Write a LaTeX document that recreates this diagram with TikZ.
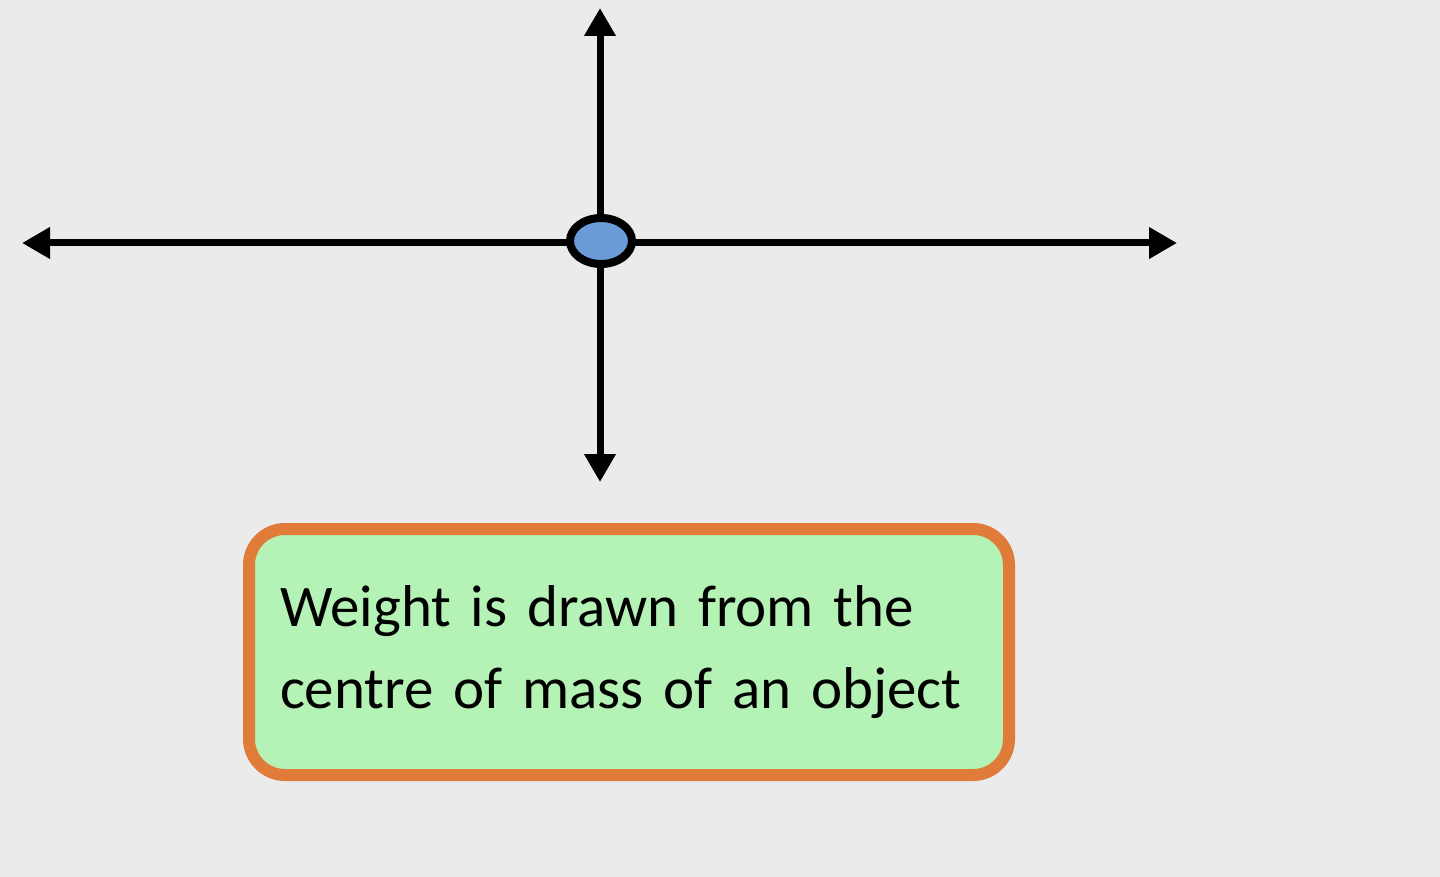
\documentclass[tikz,border=0pt]{standalone}
\usepackage{fontspec}
\setmainfont{Carlito}
\usetikzlibrary{arrows.meta,shapes.geometric}
\definecolor{bg}{HTML}{EBEBEB}
\definecolor{dotblue}{HTML}{6A9BD8}
\definecolor{boxgreen}{HTML}{B5F2B5}
\definecolor{boxorange}{HTML}{E07B39}
\tikzset{
  axis/.style={line width=3.5pt, -{Triangle[length=14pt,width=15pt]}},
  massdot/.style={ellipse, draw=black, line width=4pt, fill=dotblue, minimum width=31pt, minimum height=23pt, inner sep=0pt},
  notebox/.style={draw=boxorange, line width=6pt, fill=boxgreen, rounded corners=18pt,
    minimum width=380pt, minimum height=123pt, inner xsep=15.5pt, text width=349pt, align=left,
    font=\fontsize{29.5}{41}\selectfont}
}
\begin{document}
\begin{tikzpicture}[x=0.5pt,y=-0.5pt]
\fill[bg] (0,0) rectangle (1440,877);
\useasboundingbox (0,0) rectangle (1440,877);
\coordinate (c) at (600,243);
\coordinate (top) at (600,8);
\coordinate (bot) at (600,482);
\coordinate (left) at (22,243);
\coordinate (right) at (1177,243);
\draw[axis] (c) -- (top);
\draw[axis] (c) -- (bot);
\draw[axis] (c) -- (left);
\draw[axis] (c) -- (right);
\node[massdot] (m) at (601,241) {};
\node[notebox] (note) at (629,652) {Weight is drawn from the\\centre of mass of an object};
\end{tikzpicture}
\end{document}
